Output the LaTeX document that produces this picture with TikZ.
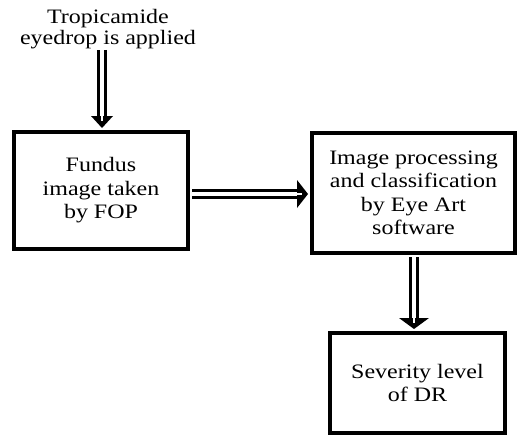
\documentclass[tikz,border=0pt]{standalone}
\usepackage{fontspec}
\setmainfont{Liberation Serif}[FakeStretch=1.17]
\usetikzlibrary{calc}

\tikzset{
  stage/.style={draw=black, line width=4pt, align=center, inner sep=0pt,
    font=\fontsize{20.5}{23.5}\selectfont},
  shaft/.style={draw=black, line width=3pt, double=white, double distance=4pt},
  slit/.style={white, line width=2.5pt},
}

\begin{document}
\begin{tikzpicture}[x=1pt, y=-1pt]
  \useasboundingbox (0,0) rectangle (517,436);

  % stages
  \node[font=\fontsize{20.5}{21.5}\selectfont, align=center] (drop) at (108,29)
    {Tropicamide\\eyedrop is applied};
  \node[stage, minimum width=174pt, minimum height=117pt] (fundus) at (101,190.5)
    {Fundus\\image taken\\by FOP};
  \node[stage, minimum width=203pt, minimum height=120pt] (proc) at (413.5,193)
    {Image processing\\and classification\\by Eye Art\\software};
  \node[stage, minimum width=175pt, minimum height=100pt] (sev) at (417.5,383)
    {Severity level\\of DR};

  % arrow ends
  \coordinate (a1s) at (102,50);
  \coordinate (a1t) at ($(fundus.north)+(1,-2)$);
  \coordinate (a2s) at ($(fundus.east)+(2,3.5)$);
  \coordinate (a2t) at ($(proc.west)+(-2,1)$);
  \coordinate (a3s) at ($(proc.south)+(0.5,2)$);
  \coordinate (a3t) at ($(proc.south |- sev.north)+(0.5,-2)$);

  % drop -> fundus
  \draw[shaft] (a1s) -- ($(a1t)+(0,-12)$);
  \fill[black] (a1t) -- ($(a1t)+(-11,-12)$) -- ($(a1t)+(11,-12)$) -- cycle;
  \draw[slit] ($(a1t)+(0,-13)$) -- ($(a1t)+(0,-7)$);

  % fundus -> processing
  \draw[shaft] (a2s) -- ($(a2t)+(-11,0)$);
  \fill[black] (a2t) -- ($(a2t)+(-11,-14)$) -- ($(a2t)+(-11,14)$) -- cycle;
  \draw[slit] ($(a2t)+(-12,0)$) -- ($(a2t)+(-6,0)$);

  % processing -> severity
  \draw[shaft] (a3s) -- ($(a3t)+(0,-11)$);
  \fill[black] (a3t) -- ($(a3t)+(-15,-11)$) -- ($(a3t)+(15,-11)$) -- cycle;
  \draw[slit] ($(a3t)+(0,-12)$) -- ($(a3t)+(0,-6)$);
\end{tikzpicture}
\end{document}
